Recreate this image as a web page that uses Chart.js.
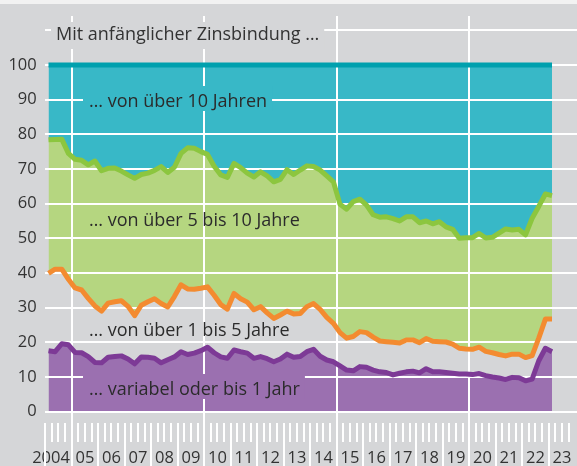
<!DOCTYPE html>
<html lang="de">
<head>
<meta charset="utf-8">
<title>Zinsbindung</title>
<script src="https://cdn.jsdelivr.net/npm/chart.js@4.4.0/dist/chart.umd.min.js"></script>
<style>
  html, body { margin: 0; padding: 0; background: #d5d6d8; }
  canvas { display: block; }
</style>
</head>
<body>
<canvas id="zinsChart" width="577" height="466"></canvas>
<script>
// Quartalswerte 2004 Q1 bis 2023 Q1, kumulierte Anteile in %
const startJahr = 2004;
const obergrenze = 100;

const variabelBis1 = [
    17.6, 17.3, 19.6, 19.3, 17.1, 17.0, 15.9, 14.2, 14.1, 15.7, 15.9, 16.1, 15.2, 13.8, 15.8, 15.7, 15.4, 14.1, 15.0, 15.8, 17.3, 16.5, 16.9, 17.6, 18.6,
    17.0, 15.8, 15.4, 17.8, 17.3, 16.9, 15.4, 15.9, 15.3, 14.4, 15.2, 16.6, 15.7, 15.9, 17.3, 18.0, 16.0, 14.9, 14.4, 13.2, 12.0, 11.8, 13.0, 12.8, 12.0,
    11.5, 11.3, 10.6, 11.1, 11.5, 11.7, 11.2, 12.4, 11.5, 11.5, 11.3, 11.1, 10.9, 10.9, 10.7, 11.0, 10.4, 10.0, 9.7, 9.3, 9.9, 9.8, 8.9, 9.4, 14.7, 18.3, 17.3
];
const bis5Jahre = [
    39.9, 41.1, 41.1, 38.2, 35.7, 35.1, 32.7, 30.5, 29.0, 31.3, 31.7, 32.0, 30.4, 27.7, 30.7, 31.7, 32.6, 31.2, 30.2, 33.2, 36.6, 35.4, 35.3, 35.6, 36.0,
    33.6, 30.9, 29.6, 34.1, 32.6, 31.6, 29.4, 30.3, 28.5, 26.9, 27.9, 29.0, 28.2, 28.3, 30.3, 31.2, 29.5, 27.2, 25.5, 22.8, 21.2, 21.7, 23.1, 22.8, 21.5,
    20.4, 20.2, 20.0, 19.8, 20.7, 20.7, 19.9, 21.1, 20.3, 20.2, 20.1, 19.5, 18.3, 18.1, 18.0, 18.6, 17.4, 17.0, 16.5, 16.1, 16.6, 16.6, 15.6, 16.2, 21.2, 26.7, 26.7
];
const bis10Jahre = [
    78.4, 78.5, 78.6, 74.5, 72.8, 72.5, 71.2, 72.3, 69.5, 70.2, 70.3, 69.4, 68.3, 67.3, 68.4, 68.8, 69.6, 70.7, 69.0, 70.5, 74.5, 76.1, 76.0, 75.0, 74.2,
    70.8, 68.3, 67.6, 71.6, 70.4, 68.8, 67.7, 69.2, 68.0, 66.3, 67.0, 69.8, 68.4, 69.7, 70.9, 70.7, 69.7, 68.0, 66.3, 59.8, 58.4, 60.6, 61.3, 59.6, 56.8,
    56.1, 56.2, 55.7, 55.0, 56.2, 56.2, 54.5, 55.0, 54.2, 54.8, 53.3, 52.6, 50.0, 50.2, 50.2, 51.4, 50.1, 50.3, 51.5, 52.7, 52.4, 52.6, 51.0, 55.8, 59.2, 62.8, 62.3
];

const jahresLabels = ['2004', '05', '06', '07', '08', '09', '10', '11', '12', '13',
    '14', '15', '16', '17', '18', '19', '20', '21', '22', '23'];
const fuenfJahresLinien = [2005, 2010, 2015, 2020];

const schrift = '"Open Sans", "DejaVu Sans", sans-serif';
const textFarbe = '#333333';

function quartal(i) {
    return startJahr + i / 4 + 0.125;
}

function punkte(werte) {
    return werte.map((v, i) => ({ x: quartal(i), y: v }));
}

// kasten: Hintergrund in Flaechenfarbe, damit die Rasterlinie unterbrochen wird
const beschriftungen = [
    { text: '\u2026 von über 10 Jahren', x: 89, y: 107, kasten: '#38b8c7' },
    { text: '\u2026 von über 5 bis 10 Jahre', x: 89, y: 226 },
    { text: '\u2026 von über 1 bis 5 Jahre', x: 89, y: 336 },
    { text: '\u2026 variabel oder bis 1 Jahr', x: 89, y: 395, kasten: '#9b70b0' }
];

const rasterPlugin = {
    id: 'raster',
    beforeDatasetsDraw(chart) {
        let ctx = chart.ctx;
        let xs = chart.scales.x;
        ctx.save();
        ctx.fillStyle = '#f2f2f2';
        ctx.fillRect(0, 0, chart.width, 4);

        ctx.strokeStyle = '#ffffff';
        ctx.lineWidth = 2;
        // Quartals- und Jahresstriche
        for (let t = startJahr; t < 2024; t += 0.25) {
            let x = Math.round(xs.getPixelForValue(t));
            ctx.beginPath();
            ctx.moveTo(x, 423);
            ctx.lineTo(x, Number.isInteger(t) ? 466 : 442);
            ctx.stroke();
        }
        // senkrechte Linien alle fuenf Jahre
        fuenfJahresLinien.forEach(j => {
            let x = Math.round(xs.getPixelForValue(j));
            ctx.beginPath();
            ctx.moveTo(x, 16);
            ctx.lineTo(x, 466);
            ctx.stroke();
        });

        ctx.font = '18px ' + schrift;
        ctx.textBaseline = 'alphabetic';
        ctx.textAlign = 'left';

        // Titel mit grauem Kasten
        let titel = 'Mit anfänglicher Zinsbindung \u2026';
        let w = ctx.measureText(titel).width;
        ctx.fillStyle = '#d5d6d8';
        ctx.fillRect(51, 22, w + 10, 27);
        ctx.fillStyle = textFarbe;
        ctx.fillText(titel, 56, 40);

        beschriftungen.forEach(b => {
            let bw = ctx.measureText(b.text).width;
            if (b.kasten) {
                ctx.fillStyle = b.kasten;
                ctx.fillRect(b.x - 6, b.y - 21, bw + 11, 25);
            }
            ctx.fillStyle = '#2b2b2b';
            ctx.fillText(b.text, b.x, b.y);
        });
        ctx.restore();
    }
};

let ctx = document.getElementById('zinsChart').getContext('2d');
let zinsChart = new Chart(ctx, {
    type: 'line',
    data: {
        datasets: [{
            label: 'variabel oder bis 1 Jahr',
            data: punkte(variabelBis1),
            borderColor: '#7d3a96',
            backgroundColor: '#9b70b0',
            fill: 'origin'
        }, {
            label: 'über 1 bis 5 Jahre',
            data: punkte(bis5Jahre),
            borderColor: '#f38b30',
            backgroundColor: '#f9b072',
            fill: '-1'
        }, {
            label: 'über 5 bis 10 Jahre',
            data: punkte(bis10Jahre),
            borderColor: '#8cc63f',
            backgroundColor: '#b5d680',
            fill: '-1'
        }, {
            label: 'über 10 Jahre',
            data: variabelBis1.map((v, i) => ({ x: quartal(i), y: obergrenze })),
            borderColor: '#00a0ae',
            backgroundColor: '#38b8c7',
            fill: '-1'
        }]
    },
    options: {
        responsive: false,
        animation: false,
        devicePixelRatio: 1,
        layout: {
            padding: { top: 30.3, left: 0, right: 0, bottom: 0 }
        },
        elements: {
            point: { radius: 0 },
            line: { borderWidth: 5, tension: 0, borderJoinStyle: 'round' }
        },
        plugins: {
            legend: { display: false },
            tooltip: { enabled: false },
            filler: { drawTime: 'beforeDraw' }
        },
        scales: {
            x: {
                type: 'linear',
                min: startJahr,
                max: 2024.068,
                grid: { display: false, drawTicks: false },
                border: { display: false },
                afterBuildTicks: scale => {
                    scale.ticks = jahresLabels.map((l, i) => ({ value: i === 0 ? startJahr + 0.22 : startJahr + i + 0.5 }));
                },
                afterFit: scale => {
                    scale.height = 54.3;
                    scale.paddingLeft = 0;
                    scale.paddingRight = 0;
                },
                ticks: {
                    autoSkip: false,
                    maxRotation: 0,
                    padding: 37,
                    color: textFarbe,
                    font: { family: schrift, size: 16.5 },
                    callback: (value, index) => jahresLabels[index]
                }
            },
            y: {
                min: 0,
                max: 110,
                afterFit: scale => {
                    scale.width = 45.2;
                    scale.paddingTop = 0;
                    scale.paddingBottom = 0;
                },
                grid: {
                    color: '#ffffff',
                    lineWidth: 2,
                    drawTicks: false
                },
                border: { display: false },
                ticks: {
                    stepSize: 10,
                    padding: 8.5,
                    color: textFarbe,
                    font: { family: schrift, size: 16.5 },
                    callback: value => value > 100 ? '' : value
                }
            }
        }
    },
    plugins: [rasterPlugin]
});
</script>
</body>
</html>
